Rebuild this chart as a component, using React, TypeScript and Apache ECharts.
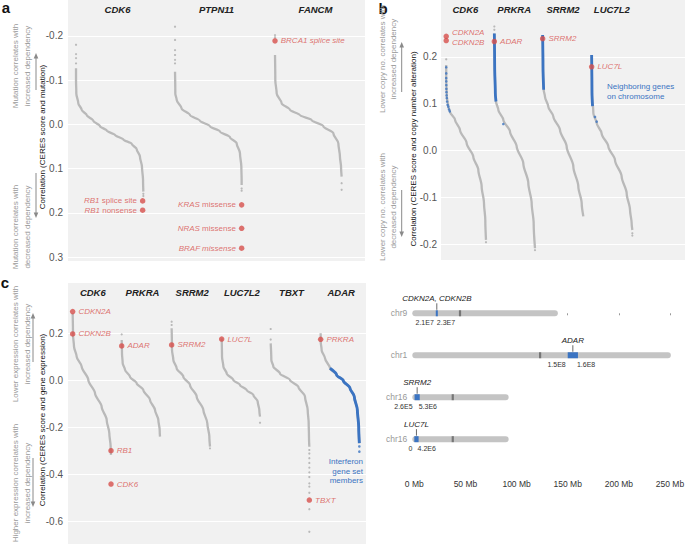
import { useEffect, useRef } from 'react';
import * as echarts from 'echarts';

const FONT = '"Liberation Sans", Arial, sans-serif';
const RED = '#d7504c';
const BLUE = '#3b74c2';
const CURVE = '#b9b9b9';
const DOT = '#ababab';
const BG = '#f1f1f1';

// ---------- panel a (CERES vs mutation) ----------
const aColumns = ['CDK6', 'PTPN11', 'FANCM'];
const aTicks = [-0.2, -0.1, 0, 0.1, 0.2, 0.3];
const aCurveCDK6 = [[0.081, -0.127], [0.081, -0.1], [0.084, -0.07], [0.104, -0.048], [0.138, -0.033], [0.189, -0.021], [0.256, -0.008], [0.323, 0.004], [0.391, 0.014], [0.475, 0.024], [0.559, 0.034], [0.643, 0.044], [0.694, 0.056], [0.727, 0.073], [0.747, 0.096], [0.758, 0.126], [0.761, 0.152]];
const aCurvePTPN11 = [[0.081, -0.119], [0.084, -0.07], [0.098, -0.055], [0.148, -0.036], [0.232, -0.021], [0.333, -0.008], [0.434, 0.004], [0.535, 0.016], [0.636, 0.029], [0.704, 0.043], [0.737, 0.065], [0.751, 0.096], [0.754, 0.126], [0.754, 0.137]];
const aCurveFANCM = [[0.091, -0.157], [0.094, -0.1], [0.108, -0.07], [0.158, -0.048], [0.242, -0.033], [0.343, -0.021], [0.461, -0.01], [0.579, 0.004], [0.68, 0.02], [0.731, 0.043], [0.747, 0.073], [0.758, 0.096], [0.764, 0.118]];
const aOutliers = [[0, 0.081, -0.18], [0, 0.081, -0.159], [0, 0.081, -0.15], [0, 0.081, -0.138], [0, 0.761, 0.157], [0, 0.761, 0.162], [1, 0.081, -0.221], [1, 0.081, -0.191], [1, 0.081, -0.168], [1, 0.081, -0.157], [1, 0.081, -0.146], [1, 0.081, -0.138], [1, 0.754, 0.145], [1, 0.754, 0.15], [2, 0.091, -0.202], [2, 0.091, -0.197], [2, 0.764, 0.133], [2, 0.764, 0.148]];
// [column, position in column, value, label, side, label vertical shift]
const aHighlights = [
  [0, 0.754, 0.173, '{i|RB1} splice site', 'left', 0],
  [0, 0.754, 0.194, '{i|RB1} nonsense', 'left', 0],
  [1, 0.754, 0.182, '{i|KRAS} missense', 'left', 0],
  [1, 0.754, 0.235, '{i|NRAS} missense', 'left', 0],
  [1, 0.754, 0.28, '{i|BRAF missense}', 'left', 0],
  [2, 0.091, -0.189, '{i|BRCA1 splice site}', 'right', 0],
];

// ---------- panel b (CERES vs copy number) ----------
const bColumns = ['CDK6', 'PRKRA', 'SRRM2', 'LUC7L2', ''];
const bTicks = [-0.2, -0.1, 0, 0.1, 0.2];
const bCurveCDK6 = [[0.107, 0.183], [0.107, 0.151], [0.12, 0.115], [0.15, 0.094], [0.184, 0.083], [0.287, 0.066], [0.389, 0.044], [0.526, 0.016], [0.662, -0.013], [0.765, -0.041], [0.833, -0.076], [0.881, -0.112], [0.908, -0.148], [0.922, -0.19]];
const bCurvePRKRA = [[0.093, 0.25], [0.1, 0.179], [0.113, 0.123], [0.127, 0.105], [0.175, 0.087], [0.277, 0.066], [0.414, 0.041], [0.551, 0.009], [0.687, -0.027], [0.789, -0.069], [0.858, -0.112], [0.899, -0.155], [0.926, -0.208]];
const bCurveSRRM2 = [[0.083, 0.247], [0.09, 0.179], [0.104, 0.13], [0.131, 0.115], [0.199, 0.094], [0.302, 0.073], [0.439, 0.044], [0.575, 0.009], [0.712, -0.034], [0.814, -0.076], [0.883, -0.112], [0.917, -0.14]];
const bCurveLUC7L2 = [[0.087, 0.204], [0.094, 0.123], [0.122, 0.08], [0.19, 0.059], [0.292, 0.037], [0.429, 0.009], [0.566, -0.02], [0.702, -0.055], [0.805, -0.091], [0.873, -0.126], [0.907, -0.155], [0.921, -0.169]];
const bBluePRKRA = [[0.093, 0.25], [0.1, 0.179], [0.113, 0.123], [0.127, 0.105]];
const bBlueSRRM2 = [[0.083, 0.247], [0.09, 0.179], [0.104, 0.13]];
const bBlueLUC7L2 = [[0.087, 0.204], [0.094, 0.123], [0.105, 0.095]];
const bBlueDots = [[0, 0.107, 0.178], [0, 0.107, 0.165], [0, 0.107, 0.155], [0, 0.108, 0.148], [0, 0.109, 0.14], [0, 0.11, 0.132], [0, 0.112, 0.125], [0, 0.115, 0.118], [0, 0.12, 0.112], [0, 0.125, 0.105], [0, 0.135, 0.098], [0, 0.15, 0.094], [0, 0.165, 0.088], [0, 0.18, 0.084], [1, 0.277, 0.057], [3, 0.156, 0.072], [3, 0.19, 0.062]];
const bOutliers = [[0, 0.107, 0.195], [0, 0.922, -0.195], [1, 0.093, 0.265], [1, 0.093, 0.258], [1, 0.926, -0.212], [3, 0.921, -0.176], [3, 0.921, -0.181]];
const bHighlights = [
  [0, 0.107, 0.244, 'CDKN2A', 'right', -4],
  [0, 0.107, 0.235, 'CDKN2B', 'right', 1.5],
  [1, 0.093, 0.233, 'ADAR', 'right', 0],
  [2, 0.083, 0.239, 'SRRM2', 'right', 0],
  [3, 0.087, 0.179, 'LUC7L', 'right', 0],
];

// ---------- panel c (CERES vs expression) ----------
const cColumns = ['CDK6', 'PRKRA', 'SRRM2', 'LUC7L2', 'TBXT', 'ADAR'];
const cTicks = [-0.6, -0.4, -0.2, 0, 0.2];
const cCurveCDK6 = [[0.094, 0.287], [0.101, 0.194], [0.121, 0.145], [0.175, 0.102], [0.275, 0.06], [0.409, 0.003], [0.544, -0.054], [0.678, -0.111], [0.779, -0.167], [0.832, -0.224], [0.859, -0.281], [0.866, -0.316]];
const cCurvePRKRA = [[0.081, 0.173], [0.087, 0.117], [0.101, 0.074], [0.148, 0.046], [0.248, 0.017], [0.383, -0.011], [0.517, -0.04], [0.651, -0.082], [0.752, -0.125], [0.819, -0.167], [0.846, -0.21], [0.852, -0.238]];
const cCurveSRRM2 = [[0.087, 0.223], [0.094, 0.131], [0.121, 0.088], [0.188, 0.053], [0.322, 0.017], [0.456, -0.018], [0.591, -0.068], [0.725, -0.125], [0.805, -0.181], [0.846, -0.238], [0.859, -0.281]];
const cCurveLUC7L2 = [[0.094, 0.18], [0.101, 0.102], [0.128, 0.06], [0.195, 0.031], [0.329, 0.003], [0.463, -0.018], [0.597, -0.04], [0.732, -0.061], [0.819, -0.089], [0.852, -0.125], [0.866, -0.153]];
const cCurveTBXT = [[0.081, 0.159], [0.094, 0.088], [0.134, 0.06], [0.268, 0.031], [0.47, 0.003], [0.638, -0.026], [0.772, -0.068], [0.826, -0.125], [0.846, -0.181], [0.852, -0.238], [0.859, -0.281]];
const cCurveADAR = [[0.087, 0.202], [0.089, 0.165], [0.107, 0.13], [0.175, 0.095], [0.275, 0.053], [0.409, 0.024], [0.544, 0.0], [0.678, -0.032], [0.765, -0.068], [0.826, -0.125], [0.853, -0.196], [0.866, -0.266]];
const cBlueADAR = [[0.275, 0.053], [0.409, 0.024], [0.544, 0.0], [0.678, -0.032], [0.765, -0.068], [0.826, -0.125], [0.853, -0.196], [0.866, -0.266]];
const cBlueDots = [[5, 0.866, -0.302], [5, 0.866, -0.28]];
const cOutliers = [[1, 0.081, 0.197], [2, 0.087, 0.251], [2, 0.087, 0.237], [2, 0.859, -0.288], [3, 0.866, -0.179], [4, 0.081, 0.22], [4, 0.081, 0.175], [4, 0.859, -0.295], [4, 0.859, -0.31], [4, 0.859, -0.33], [4, 0.859, -0.35], [4, 0.859, -0.37], [4, 0.859, -0.39], [4, 0.859, -0.41], [4, 0.859, -0.437], [4, 0.859, -0.451], [4, 0.859, -0.477], [4, 0.859, -0.547], [4, 0.859, -0.643]];
const cHighlights = [
  [0, 0.094, 0.294, 'CDKN2A', 'right', 0],
  [0, 0.094, 0.199, 'CDKN2B', 'right', 0],
  [0, 0.866, -0.298, 'RB1', 'right', 0],
  [0, 0.866, -0.44, 'CDK6', 'right', 0],
  [1, 0.081, 0.148, 'ADAR', 'right', 0],
  [2, 0.087, 0.152, 'SRRM2', 'right', 0],
  [3, 0.094, 0.177, 'LUC7L', 'right', 0],
  [4, 0.859, -0.508, 'TBXT', 'right', 0],
  [5, 0.087, 0.176, 'PRKRA', 'right', 0],
];

// ---------- chromosome panel ----------
const chromNames = ['chr9', 'chr1', 'chr16', 'chr16'];
const chromLengthMb = [138.4, 248.9, 90.3, 90.3];
const centromereMb = [44.7, 123.0, 37.6, 37.6];
const bandStartMb = [21.0, 150.0, 0.26, 0.0];
const bandEndMb = [23.0, 160.0, 5.3, 4.2];
const geneLabels = ['CDKN2A, CDKN2B', 'ADAR', 'SRRM2', 'LUC7L'];
const bandLeftLabels = ['2.1E7', '1.5E8', '2.6E5', '0'];
const bandRightLabels = ['2.3E7', '1.6E8', '5.3E6', '4.2E6'];

const curveSeries = (pts: number[][], col: number, xi: number, yi: number, color = CURVE, width = 2.3) => ({
  type: 'line', xAxisIndex: xi, yAxisIndex: yi, silent: true, z: 2,
  data: pts.map(([l, v]) => [col + l, v]),
  showSymbol: false, symbol: 'none', smooth: 0.3, smoothMonotone: 'y',
  lineStyle: { color, width },
});

const dotSeries = (list: number[][], xi: number, yi: number, color: string, size: number) => ({
  type: 'scatter', xAxisIndex: xi, yAxisIndex: yi, silent: true, z: 3,
  symbolSize: size, itemStyle: { color },
  data: list.map(([c, l, v]) => [c + l, v]),
});

const highlightSeries = (list: any[], xi: number, yi: number, italicBase: boolean) => ({
  type: 'scatter', xAxisIndex: xi, yAxisIndex: yi, silent: true, z: 5,
  symbolSize: 5.5, itemStyle: { color: RED },
  label: {
    show: true, color: RED, fontSize: 8, fontFamily: FONT, fontStyle: italicBase ? 'italic' : 'normal',
    rich: { i: { fontStyle: 'italic', color: RED, fontSize: 8, fontFamily: FONT } },
  },
  data: list.map(([c, l, v, text, side, dy]) => ({
    value: [c + l, v],
    label: { show: true, position: side, distance: 3, formatter: text, offset: [0, dy] },
  })),
});

const valueYAxis = (g: number, min: number, max: number, ticks: number[], inverse: boolean, margin: number) => ({
  type: 'value', gridIndex: g, min, max, inverse,
  axisLine: { show: false },
  axisTick: { show: false, customValues: ticks },
  axisLabel: { customValues: ticks, formatter: (v: number) => Number(v).toFixed(1), color: '#555', fontSize: 10, margin, fontFamily: FONT },
  splitLine: { show: true, lineStyle: { color: '#ffffff', width: 1 } },
});

const hiddenX = (g: number, max: number) => ({ type: 'value', gridIndex: g, min: 0, max, show: false });
const titleX = (g: number, data: string[], margin: number) => ({
  type: 'category', gridIndex: g, position: 'top', data,
  axisLine: { show: false }, axisTick: { show: false }, splitLine: { show: false },
  axisLabel: { inside: true, margin, fontSize: 9.5, fontWeight: 'bold', fontStyle: 'italic', color: '#222', fontFamily: FONT, interval: 0 },
});

const txt = (x: number, y: number, text: string, o: any = {}) => ({
  type: 'text', x, y, rotation: o.rot || 0, silent: true, z: 20,
  style: {
    text, fill: o.color || '#222', fontSize: o.size || 8, fontFamily: FONT,
    fontWeight: o.weight || 'normal', fontStyle: o.style || 'normal',
    align: o.align || 'center', verticalAlign: o.valign || 'middle',
    textAlign: o.align || 'center', textVerticalAlign: o.valign || 'middle',
    lineHeight: o.lh || 10,
  },
});

const arrow = (x: number, tail: number, tip: number) => {
  const dir = tip < tail ? -1 : 1;
  return [
    { type: 'line', silent: true, z: 20, shape: { x1: x, y1: tail, x2: x, y2: tip - dir * 4 }, style: { stroke: '#8a8a8a', lineWidth: 1 } },
    { type: 'polygon', silent: true, z: 20, shape: { points: [[x, tip], [x - 2.3, tip - dir * 5.5], [x + 2.3, tip - dir * 5.5]] }, style: { fill: '#8a8a8a' } },
  ];
};

function buildOption() {
  const series: any[] = [];
  // panel a
  [aCurveCDK6, aCurvePTPN11, aCurveFANCM].forEach((c, i) => series.push(curveSeries(c, i, 0, 0)));
  series.push(dotSeries(aOutliers, 0, 0, DOT, 2.2));
  series.push(highlightSeries(aHighlights, 0, 0, false));
  // panel b
  [bCurveCDK6, bCurvePRKRA, bCurveSRRM2, bCurveLUC7L2].forEach((c, i) => series.push(curveSeries(c, i, 2, 1)));
  series.push(curveSeries(bBluePRKRA, 1, 2, 1, BLUE, 2.8));
  series.push(curveSeries(bBlueSRRM2, 2, 2, 1, BLUE, 2.8));
  series.push(curveSeries(bBlueLUC7L2, 3, 2, 1, BLUE, 2.8));
  series.push(dotSeries(bBlueDots, 2, 1, BLUE, 2.6));
  series.push(dotSeries(bOutliers, 2, 1, DOT, 2.2));
  series.push(highlightSeries(bHighlights, 2, 1, true));
  // panel c
  [cCurveCDK6, cCurvePRKRA, cCurveSRRM2, cCurveLUC7L2, cCurveTBXT, cCurveADAR].forEach((c, i) => series.push(curveSeries(c, i, 4, 2)));
  series.push(curveSeries(cBlueADAR, 5, 4, 2, BLUE, 2.9));
  series.push(dotSeries(cBlueDots, 4, 2, BLUE, 2.6));
  series.push(dotSeries(cOutliers, 4, 2, DOT, 2.2));
  series.push(highlightSeries(cHighlights, 4, 2, true));
  // chromosomes
  series.push({
    type: 'custom', xAxisIndex: 6, yAxisIndex: 3, silent: true, z: 4, clip: false,
    data: chromNames.map((_, i) => [i, chromLengthMb[i], centromereMb[i], bandStartMb[i], bandEndMb[i]]),
    encode: { x: [1, 2, 3, 4], y: 0 },
    renderItem: (params: any, api: any) => {
      const i = params.dataIndex;
      const row = api.value(0);
      const p0 = api.coord([0, row]);
      const p1 = api.coord([api.value(1), row]);
      const pc = api.coord([api.value(2), row]);
      const pb0 = api.coord([api.value(3), row]);
      const pb1 = api.coord([api.value(4), row]);
      const h = 6;
      const y = p0[1];
      const bw = Math.max(pb1[0] - pb0[0], 2);
      const cx = pb0[0] + bw / 2;
      const t = (x: number, yy: number, text: string, align: string, size: number, color: string, italic = false) => ({
        type: 'text', x, y: yy,
        style: { text, align, verticalAlign: 'middle', textAlign: align, textVerticalAlign: 'middle', fill: color, fontSize: size, fontFamily: FONT, fontStyle: italic ? 'italic' : 'normal' },
      });
      return {
        type: 'group',
        children: [
          { type: 'rect', shape: { x: p0[0] - 2, y: y - h / 2, width: p1[0] - p0[0] + 4, height: h, r: h / 2 }, style: { fill: '#c4c4c4' } },
          { type: 'rect', shape: { x: pc[0] - 1.1, y: y - h / 2, width: 2.2, height: h }, style: { fill: '#767676' } },
          { type: 'rect', shape: { x: pb0[0], y: y - h / 2, width: bw, height: h }, style: { fill: BLUE } },
          { type: 'line', shape: { x1: cx, y1: y - 10, x2: cx, y2: y - 3.5 }, style: { stroke: '#444', lineWidth: 0.8 } },
          t(p0[0] - 7, y, chromNames[i], 'right', 8.5, '#999'),
          t(cx, y - 15, geneLabels[i], 'center', 8, '#222', true),
          t(pb0[0] - 2, y + 9, bandLeftLabels[i], 'right', 7, '#333'),
          t(pb1[0] - 1, y + 9, bandRightLabels[i], 'left', 7, '#333'),
        ],
      };
    },
  });

  const graphic: any[] = [
    txt(6, 7, 'a', { size: 15, weight: 'bold', color: '#111' }),
    txt(383, 8, 'b', { size: 15, weight: 'bold', color: '#111' }),
    txt(5, 282, 'c', { size: 15, weight: 'bold', color: '#111' }),
    // axis names
    txt(42, 137, 'Correlation (CERES score and mutation)', { rot: Math.PI / 2, size: 8, color: '#111' }),
    txt(413, 149, 'Correlation (CERES score and copy number alteration)', { rot: Math.PI / 2, size: 8, color: '#111' }),
    txt(42, 420, 'Correlation (CERES score and gene expression)', { rot: Math.PI / 2, size: 8, color: '#111' }),
    // annotations
    txt(21.5, 66, 'Mutation correlates with\nincreased dependency', { rot: Math.PI / 2, size: 8, color: '#9a9a9a', lh: 12 }),
    txt(21.5, 227, 'Mutation correlates with\ndecreased dependency', { rot: Math.PI / 2, size: 8, color: '#9a9a9a', lh: 12 }),
    txt(388, 59, 'Lower copy no. correlates with\nincreased dependency', { rot: Math.PI / 2, size: 8, color: '#9a9a9a', lh: 11 }),
    txt(387.5, 207, 'Lower copy no. correlates with\ndecreased dependency', { rot: Math.PI / 2, size: 8, color: '#9a9a9a', lh: 11 }),
    txt(21, 344, 'Lower expression correlates with\nincreased dependency', { rot: Math.PI / 2, size: 8, color: '#9a9a9a', lh: 12 }),
    txt(21, 483, 'Higher expression correlates with\nincreased dependency', { rot: Math.PI / 2, size: 8, color: '#9a9a9a', lh: 12 }),
    ...arrow(36, 90, 53),
    ...arrow(36, 173, 218),
    ...arrow(401.7, 92, 42),
    ...arrow(401.7, 190, 237),
    ...arrow(33, 362, 313),
    ...arrow(33, 458, 507),
    // blue notes
    txt(607, 91, 'Neighboring genes\non chromosome', { size: 8, color: BLUE, align: 'left', lh: 10 }),
    txt(363, 471.3, 'Interferon\ngene set\nmembers', { size: 8, color: BLUE, align: 'right', lh: 9.7 }),
  ];

  return {
    animation: false,
    backgroundColor: '#ffffff',
    textStyle: { fontFamily: FONT },
    grid: [
      { left: 68, top: 0, width: 297, height: 261, show: true, backgroundColor: BG, borderWidth: 0, outerBoundsMode: 'none' },
      { left: 441, top: 0, width: 244, height: 260, show: true, backgroundColor: BG, borderWidth: 0, outerBoundsMode: 'none' },
      { left: 68, top: 283, width: 298, height: 261, show: true, backgroundColor: BG, borderWidth: 0, outerBoundsMode: 'none' },
      { left: 414.3, top: 292.3, width: 255.7, height: 181.7, show: false, outerBoundsMode: 'none' },
    ],
    xAxis: [
      hiddenX(0, 3),
      titleX(0, aColumns, 4),
      hiddenX(1, 5),
      titleX(1, bColumns, 4),
      hiddenX(2, 6),
      titleX(2, cColumns, 4),
      {
        type: 'value', gridIndex: 3, min: 0, max: 250, interval: 50,
        axisLine: { show: false },
        axisTick: { show: true, length: 2, lineStyle: { color: '#999' } },
        axisLabel: { formatter: (v: number) => `${v} Mb`, color: '#333', fontSize: 8.5, margin: 5, fontFamily: FONT },
        splitLine: { show: false },
      },
    ],
    yAxis: [
      valueYAxis(0, -0.2814, 0.309, aTicks, true, 5),
      valueYAxis(1, -0.233, 0.3215, bTicks, false, 4),
      valueYAxis(2, -0.695, 0.4157, cTicks, false, 5),
      { type: 'value', gridIndex: 3, min: -0.5, max: 3.83, inverse: true, show: false },
    ],
    series,
    graphic,
  };
}

export default function App() {
  const ref = useRef<HTMLDivElement>(null);
  useEffect(() => {
    const chart = echarts.init(ref.current!, null, { renderer: 'svg' });
    chart.setOption(buildOption() as any);
    return () => chart.dispose();
  }, []);
  return <div ref={ref} style={{ position: 'absolute', left: 0, top: 0, width: 685, height: 544 }} />;
}
